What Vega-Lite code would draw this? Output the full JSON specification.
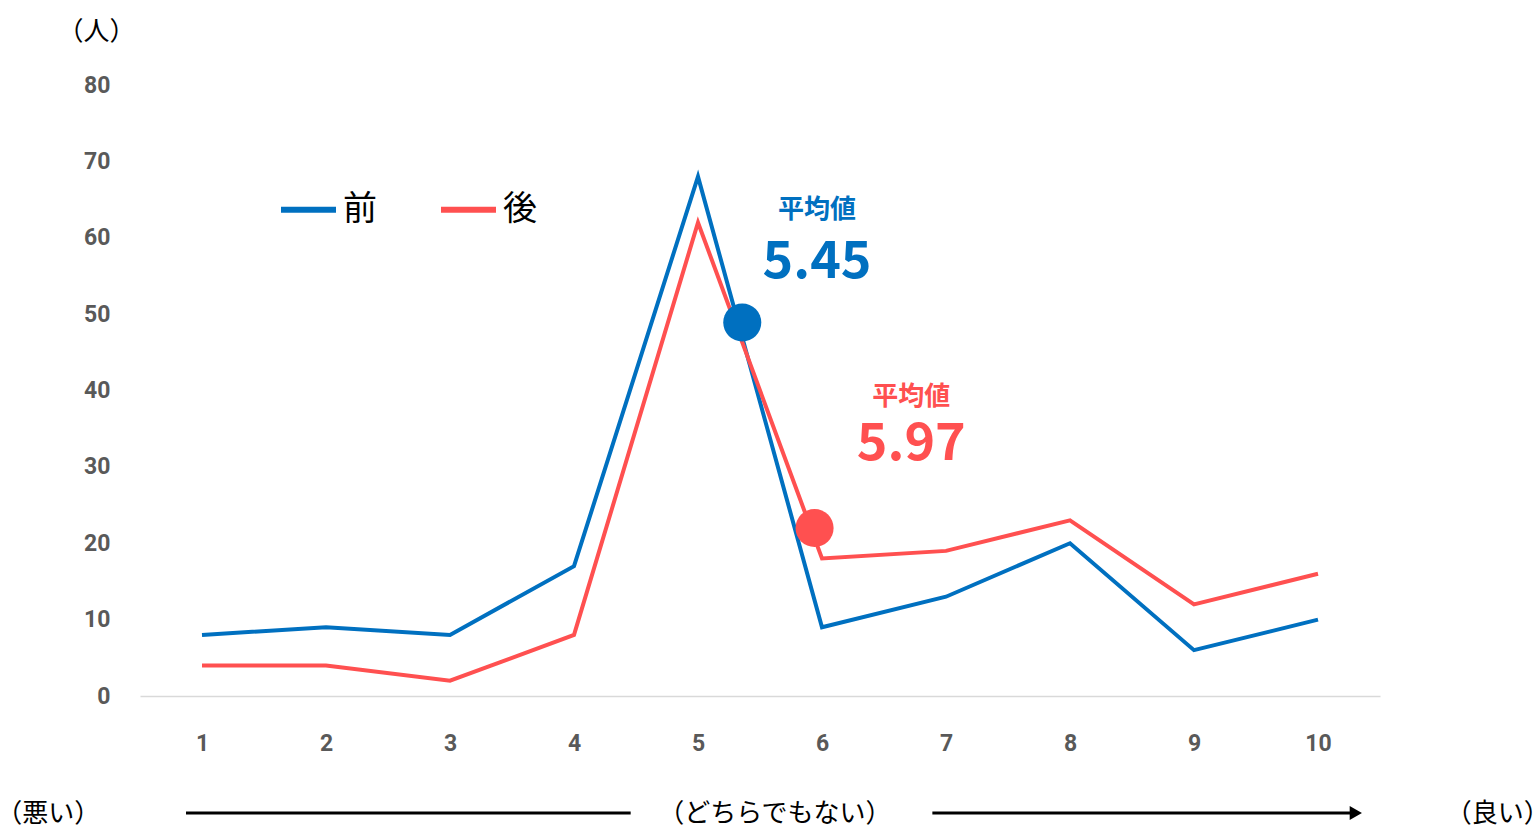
{
  "$schema": "https://vega.github.io/schema/vega-lite/v6.json",
  "width": 1240,
  "height": 611,
  "autosize": "none",
  "padding": {"left": 140, "top": 85, "right": 157, "bottom": 129},
  "background": "white",
  "config": {"view": {"stroke": null}},
  "datasets": {
    "counts": [
      {"score": 1, "group": "前", "count": 8},
      {"score": 2, "group": "前", "count": 9},
      {"score": 3, "group": "前", "count": 8},
      {"score": 4, "group": "前", "count": 17},
      {"score": 5, "group": "前", "count": 68},
      {"score": 6, "group": "前", "count": 9},
      {"score": 7, "group": "前", "count": 13},
      {"score": 8, "group": "前", "count": 20},
      {"score": 9, "group": "前", "count": 6},
      {"score": 10, "group": "前", "count": 10},
      {"score": 1, "group": "後", "count": 4},
      {"score": 2, "group": "後", "count": 4},
      {"score": 3, "group": "後", "count": 2},
      {"score": 4, "group": "後", "count": 8},
      {"score": 5, "group": "後", "count": 62},
      {"score": 6, "group": "後", "count": 18},
      {"score": 7, "group": "後", "count": 19},
      {"score": 8, "group": "後", "count": 23},
      {"score": 9, "group": "後", "count": 12},
      {"score": 10, "group": "後", "count": 16}
    ],
    "means": [
      {"group": "前", "x": 5.357, "y": 48.9, "mean": "5.45", "labelX": 5.96, "titleY": 63.6, "valueY": 56.8},
      {"group": "後", "x": 5.94, "y": 22.0, "mean": "5.97", "labelX": 6.72, "titleY": 39.2, "valueY": 33.0}
    ],
    "notes": [
      {"x": 0.15, "y": 87.0, "label": "（人）"},
      {"x": -0.24, "y": -15.4, "label": "（悪い）"},
      {"x": 5.62, "y": -15.4, "label": "（どちらでもない）"},
      {"x": 11.45, "y": -15.4, "label": "（良い）"}
    ],
    "arrows": [
      {"x": 0.871, "x2": 4.457, "y": -15.32},
      {"x": 6.89, "x2": 10.27, "y": -15.32}
    ],
    "heads": [
      {"x": 10.305, "y": -15.32}
    ]
  },
  "layer": [
    {
      "data": {"name": "counts"},
      "mark": {"type": "line", "strokeWidth": 4, "strokeJoin": "miter"},
      "encoding": {
        "x": {
          "field": "score", "type": "quantitative",
          "scale": {"domain": [0.5, 10.5], "nice": false, "zero": false},
          "axis": {
            "values": [1, 2, 3, 4, 5, 6, 7, 8, 9, 10], "format": "d", "title": null,
            "grid": false, "ticks": false, "tickSize": 0, "labelPadding": 36,
            "labelFont": "Roboto", "labelFontWeight": "bold", "labelFontSize": 23, "labelColor": "#595959",
            "domainColor": "#D9D9D9", "domainWidth": 1.5
          }
        },
        "y": {
          "field": "count", "type": "quantitative",
          "scale": {"domain": [0, 80], "nice": false},
          "axis": {
            "values": [0, 10, 20, 30, 40, 50, 60, 70, 80], "title": null,
            "grid": false, "ticks": false, "tickSize": 0, "domain": false, "labelPadding": 30,
            "labelFont": "Roboto", "labelFontWeight": "bold", "labelFontSize": 23, "labelColor": "#595959"
          }
        },
        "color": {
          "field": "group", "type": "nominal",
          "scale": {"domain": ["前", "後"], "range": ["#0070C0", "#FF5050"]},
          "legend": {
            "orient": "none", "legendX": 138, "legendY": 94, "direction": "horizontal",
            "title": null, "symbolType": "stroke", "symbolStrokeWidth": 6, "symbolSize": 3025,
            "labelFont": "Noto Sans CJK JP", "labelFontSize": 34, "labelColor": "#000000",
            "labelOffset": 4, "columnPadding": 52, "padding": 0
          }
        }
      }
    },
    {
      "data": {"name": "means"},
      "mark": {"type": "point", "filled": true, "opacity": 1, "size": 1450},
      "encoding": {
        "x": {"field": "x", "type": "quantitative"},
        "y": {"field": "y", "type": "quantitative"},
        "color": {"field": "group", "type": "nominal", "legend": null}
      }
    },
    {
      "data": {"name": "means"},
      "mark": {"type": "text", "font": "Noto Sans CJK JP", "fontWeight": "bold", "fontSize": 26, "baseline": "middle", "align": "center", "text": "平均値"},
      "encoding": {
        "x": {"field": "labelX", "type": "quantitative"},
        "y": {"field": "titleY", "type": "quantitative"},
        "color": {"field": "group", "type": "nominal", "legend": null}
      }
    },
    {
      "data": {"name": "means"},
      "mark": {"type": "text", "font": "Noto Sans CJK JP", "fontWeight": "bold", "fontSize": 52, "baseline": "middle", "align": "center"},
      "encoding": {
        "x": {"field": "labelX", "type": "quantitative"},
        "y": {"field": "valueY", "type": "quantitative"},
        "text": {"field": "mean"},
        "color": {"field": "group", "type": "nominal", "legend": null}
      }
    },
    {
      "data": {"name": "notes"},
      "mark": {"type": "text", "font": "Noto Sans CJK JP", "fontSize": 26, "baseline": "middle", "align": "center", "color": "#000000"},
      "encoding": {
        "x": {"field": "x", "type": "quantitative"},
        "y": {"field": "y", "type": "quantitative"},
        "text": {"field": "label"}
      }
    },
    {
      "data": {"name": "arrows"},
      "mark": {"type": "rule", "strokeWidth": 3, "color": "#000000"},
      "encoding": {
        "x": {"field": "x", "type": "quantitative"},
        "x2": {"field": "x2"},
        "y": {"field": "y", "type": "quantitative"}
      }
    },
    {
      "data": {"name": "heads"},
      "mark": {"type": "point", "shape": "triangle-right", "filled": true, "opacity": 1, "size": 200, "color": "#000000"},
      "encoding": {
        "x": {"field": "x", "type": "quantitative"},
        "y": {"field": "y", "type": "quantitative"}
      }
    }
  ]
}
